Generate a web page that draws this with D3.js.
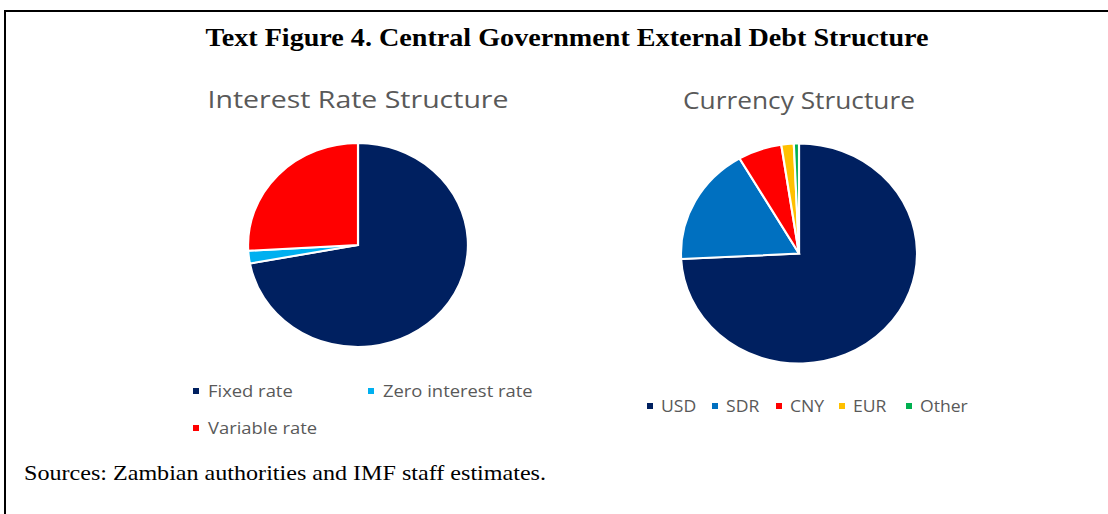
<!DOCTYPE html>
<html>
<head>
<meta charset="utf-8">
<script src="https://cdn.jsdelivr.net/npm/d3@7"></script>
<style>
  html, body { margin: 0; padding: 0; background: #fff; }
  svg { display: block; }
</style>
</head>
<body>
<svg id="chart" width="1108" height="514"></svg>
<script>
// Interest rate structure (percent of external debt)
const rateCategories = ["Fixed rate", "Zero interest rate", "Variable rate"];
const rateValues = [72.1, 2.0, 25.9];
const rateColors = ["#002060", "#00B0F0", "#FF0000"];

// Currency structure (percent of external debt)
const currencyCategories = ["USD", "SDR", "CNY", "EUR", "Other"];
const currencyValues = [74.2, 17.4, 6.0, 1.7, 0.7];
const currencyColors = ["#002060", "#0070C0", "#FF0000", "#FFC000", "#00B050"];

const figureTitle = "Text Figure 4. Central Government External Debt Structure";
const sourceNote = "Sources: Zambian authorities and IMF staff estimates.";

const serif = "'Liberation Serif', 'Times New Roman', serif";
const sans = "'Open Sans', sans-serif";

const svg = d3.select("#chart");

// Frame: rule along the top and down the left side
svg.append("path")
  .attr("d", "M5,514 V11 H1108")
  .attr("fill", "none")
  .attr("stroke", "#000")
  .attr("stroke-width", 2);

svg.append("text")
  .attr("x", 567).attr("y", 46)
  .attr("text-anchor", "middle")
  .attr("font-family", serif)
  .attr("font-weight", "bold")
  .attr("font-size", 26)
  .attr("textLength", 723)
  .attr("lengthAdjust", "spacingAndGlyphs")
  .attr("fill", "#000")
  .text(figureTitle);

svg.append("text")
  .attr("x", 24).attr("y", 480)
  .attr("font-family", serif)
  .attr("font-size", 21)
  .attr("textLength", 522)
  .attr("lengthAdjust", "spacingAndGlyphs")
  .attr("fill", "#000")
  .text(sourceNote);

function drawPie(opts) {
  const g = svg.append("g");

  g.append("text")
    .attr("x", opts.cx).attr("y", opts.titleY)
    .attr("text-anchor", "middle")
    .attr("font-family", sans)
    .attr("font-size", 23)
    .attr("textLength", opts.titleWidth)
    .attr("lengthAdjust", "spacingAndGlyphs")
    .attr("fill", "#595959")
    .text(opts.title);

  const pie = d3.pie().sort(null).value(d => d.value);
  const arc = d3.arc().innerRadius(0).outerRadius(opts.r);
  const data = opts.categories.map((c, i) => ({ name: c, value: opts.values[i] }));
  const color = d3.scaleOrdinal().domain(opts.categories).range(opts.colors);

  // Pies are drawn a little wider than tall
  g.append("g")
    .attr("transform", `translate(${opts.cx},${opts.cy}) scale(${opts.sx},1)`)
    .selectAll("path")
    .data(pie(data))
    .join("path")
    .attr("d", arc)
    .attr("fill", d => color(d.data.name))
    .attr("stroke", "#fff")
    .attr("stroke-width", 2)
    .attr("stroke-linejoin", "miter");

  const items = g.append("g").selectAll("g")
    .data(opts.categories)
    .join("g")
    .attr("transform", (d, i) => `translate(${opts.legend[i][0]},${opts.legend[i][1]})`);

  items.append("rect")
    .attr("x", 0).attr("y", -3)
    .attr("width", 6).attr("height", 6)
    .attr("fill", d => color(d));

  items.append("text")
    .attr("transform", `translate(${opts.textGap},0) scale(${opts.textStretch},1)`)
    .attr("dy", "0.35em")
    .attr("font-family", sans)
    .attr("font-size", 16)
    .attr("fill", "#595959")
    .text(d => d);
}

drawPie({
  title: "Interest Rate Structure", titleWidth: 301,
  categories: rateCategories, values: rateValues, colors: rateColors,
  cx: 358, cy: 245, r: 102, sx: 1.078, titleY: 108,
  legend: [[193, 391], [368, 391], [193, 428]], textGap: 15, textStretch: 1.15
});

drawPie({
  title: "Currency Structure", titleWidth: 232,
  categories: currencyCategories, values: currencyValues, colors: currencyColors,
  cx: 799, cy: 253.5, r: 110, sx: 1.073, titleY: 109,
  legend: [[647, 406], [712, 406], [776, 406], [839, 406], [906, 406]], textGap: 14, textStretch: 1.1
});
</script>
</body>
</html>
